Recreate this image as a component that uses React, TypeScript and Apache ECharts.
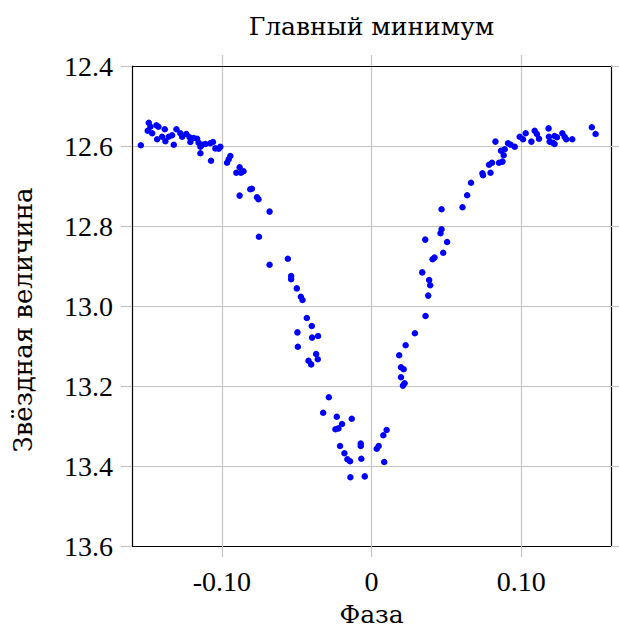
import React, { useEffect, useRef } from "react";
import * as echarts from "echarts";

const phase: number[] = [
  -0.1541, -0.1488, -0.1477, -0.1495, -0.1465, -0.1437, -0.1423, -0.1432, -0.1399, -0.1381,
  -0.1377, -0.1355, -0.1332, -0.1321, -0.1303, -0.1277, -0.1265, -0.1237, -0.1215, -0.121,
  -0.1188, -0.1165, -0.1155, -0.1143, -0.1143, -0.1132, -0.111, -0.1077, -0.1072, -0.1059,
  -0.1043, -0.1021, -0.101, -0.0965, -0.0954, -0.0943, -0.0903, -0.0881, -0.0872, -0.0855,
  -0.081, -0.0799, -0.0881, -0.0765, -0.0755, -0.0681, -0.0752, -0.0559, -0.0681, -0.0537,
  -0.0537, -0.0499, -0.0472, -0.0461, -0.0432, -0.0399, -0.0495, -0.0397, -0.0357, -0.0492,
  -0.037, -0.0359, -0.0421, -0.0403, -0.0285, -0.0323, -0.0232, -0.0132, -0.0197, -0.0241,
  -0.0221, -0.021, -0.0072, -0.0072, -0.0181, -0.0161, -0.0143, -0.0068, -0.0141, -0.0045,
  0.0101, 0.0079, 0.0048, 0.0035, 0.0085, 0.029, 0.0228, 0.0185, 0.0197, 0.0215,
  0.0197, 0.0221, 0.021, 0.0665, 0.0639, 0.0608, 0.0468, 0.0468, 0.0461, 0.0359,
  0.0505, 0.0479, 0.0408, 0.0421, 0.0339, 0.0385, 0.0392, 0.0379, 0.0361, 0.0741,
  0.0745, 0.0795, 0.0785, 0.0805, 0.0852, 0.0875, 0.0883, 0.0865, 0.089, 0.0828,
  0.0912, 0.093, 0.0957, 0.099, 0.1012, 0.103, 0.1068, 0.109, 0.1105, 0.1119,
  0.1183, 0.1185, 0.119, 0.1223, 0.1239, 0.1212, 0.1223, 0.1275, 0.129, 0.1301,
  0.1341, 0.1472, 0.1497,
];

const magnitude: number[] = [
  12.598, 12.542, 12.552, 12.562, 12.568, 12.548, 12.552, 12.583, 12.577, 12.558,
  12.588, 12.577, 12.573, 12.597, 12.558, 12.568, 12.577, 12.57, 12.578, 12.59,
  12.58, 12.582, 12.592, 12.602, 12.618, 12.597, 12.595, 12.593, 12.637, 12.59,
  12.606, 12.607, 12.602, 12.642, 12.633, 12.625, 12.667, 12.653, 12.667, 12.663,
  12.708, 12.707, 12.724, 12.728, 12.733, 12.764, 12.827, 12.882, 12.897, 12.925,
  12.933, 12.956, 12.977, 12.985, 13.03, 13.05, 13.066, 13.079, 13.075, 13.102,
  13.12, 13.133, 13.137, 13.146, 13.228, 13.267, 13.277, 13.282, 13.295, 13.308,
  13.306, 13.35, 13.344, 13.35, 13.368, 13.383, 13.388, 13.382, 13.428, 13.426,
  13.31, 13.323, 13.35, 13.357, 13.39, 13.068, 13.098, 13.123, 13.153, 13.158,
  13.178, 13.193, 13.199, 12.692, 12.723, 12.753, 12.758, 12.808, 12.818, 12.834,
  12.84, 12.867, 12.883, 12.879, 12.916, 12.935, 12.948, 12.974, 13.025, 12.668,
  12.673, 12.667, 12.647, 12.642, 12.642, 12.639, 12.623, 12.612, 12.608, 12.589,
  12.593, 12.597, 12.602, 12.577, 12.583, 12.568, 12.589, 12.562, 12.57, 12.582,
  12.556, 12.577, 12.589, 12.575, 12.578, 12.592, 12.595, 12.568, 12.577, 12.583,
  12.583, 12.553, 12.57,
];

const xTicks: number[] = [-0.1, 0, 0.1];
const xRange: number[] = [-0.16, 0.16];
const yRange: number[] = [12.4, 13.6];
const yStep = 0.2;

const titleText = "Главный минимум";
const xName = "Фаза";
const yName = "Звёздная величина";

const FONT = "Liberation Serif";
const CYR_FONT = "DejaVu Serif";
const GRID = "#c4c4c4";

export default function App() {
  const ref = useRef<HTMLDivElement>(null);
  useEffect(() => {
    document.body.style.margin = "0";
    if (!ref.current) return;
    const chart = echarts.init(ref.current, undefined, { renderer: "svg" });
    const data = phase.map((p, i) => [p, magnitude[i]]);
    const gridL = 132, gridT = 66, gridR = 8, gridB = 83;
    const commonX = {
      type: "value" as const,
      min: xRange[0],
      max: xRange[1],
      axisLine: { show: true, onZero: false, lineStyle: { color: "#000", width: 1.2 } },
      axisTick: { show: true, inside: false, length: 11, customValues: xTicks, lineStyle: { color: GRID, width: 1.2 } },
    };
    const commonY = {
      type: "value" as const,
      min: yRange[0],
      max: yRange[1],
      interval: yStep,
      inverse: true,
      axisLine: { show: true, onZero: false, lineStyle: { color: "#000", width: 1.2 } },
      axisTick: { show: true, inside: false, length: 11, lineStyle: { color: GRID, width: 1.2 } },
    };
    const textStyle = (size: number) => ({
      fontFamily: CYR_FONT,
      fontSize: size,
      fill: "#000",
      textAlign: "center",
      textVerticalAlign: "middle",
      align: "center",
      verticalAlign: "middle",
    });
    chart.setOption({
      animation: false,
      grid: { left: gridL, top: gridT, right: gridR, bottom: gridB, containLabel: false },
      xAxis: [
        {
          ...commonX,
          position: "bottom",
          axisLabel: {
            customValues: xTicks,
            margin: 21,
            color: "#000",
            fontFamily: FONT,
            fontSize: 28,
            formatter: (v: number) => (Math.abs(v) < 1e-9 ? "0" : v.toFixed(2)),
          },
          splitLine: { show: true, lineStyle: { color: GRID, width: 1.2 } },
        },
        {
          ...commonX,
          position: "top",
          axisLabel: { show: false },
          splitLine: { show: false },
        },
      ],
      yAxis: [
        {
          ...commonY,
          position: "left",
          axisLabel: {
            margin: 19,
            color: "#000",
            fontFamily: FONT,
            fontSize: 28,
            formatter: (v: number) => v.toFixed(1),
          },
          splitLine: { show: true, lineStyle: { color: GRID, width: 1.2 } },
        },
        {
          ...commonY,
          position: "right",
          axisLabel: { show: false },
          splitLine: { show: false },
        },
      ],
      graphic: [
        { type: "text", x: 371.5, y: 26, style: { text: titleText, ...textStyle(25) } },
        { type: "text", x: 371.5, y: 614, style: { text: xName, ...textStyle(25) } },
        { type: "text", x: 23, y: 320, rotation: Math.PI / 2, style: { text: yName, ...textStyle(26) } },
      ],
      series: [
        {
          type: "scatter",
          xAxisIndex: 0,
          yAxisIndex: 0,
          data,
          symbol: "circle",
          symbolSize: 6.5,
          itemStyle: { color: "#0000ff", opacity: 1 },
        },
      ],
    });
    return () => chart.dispose();
  }, []);
  return <div ref={ref} style={{ width: 619, height: 629 }} />;
}
